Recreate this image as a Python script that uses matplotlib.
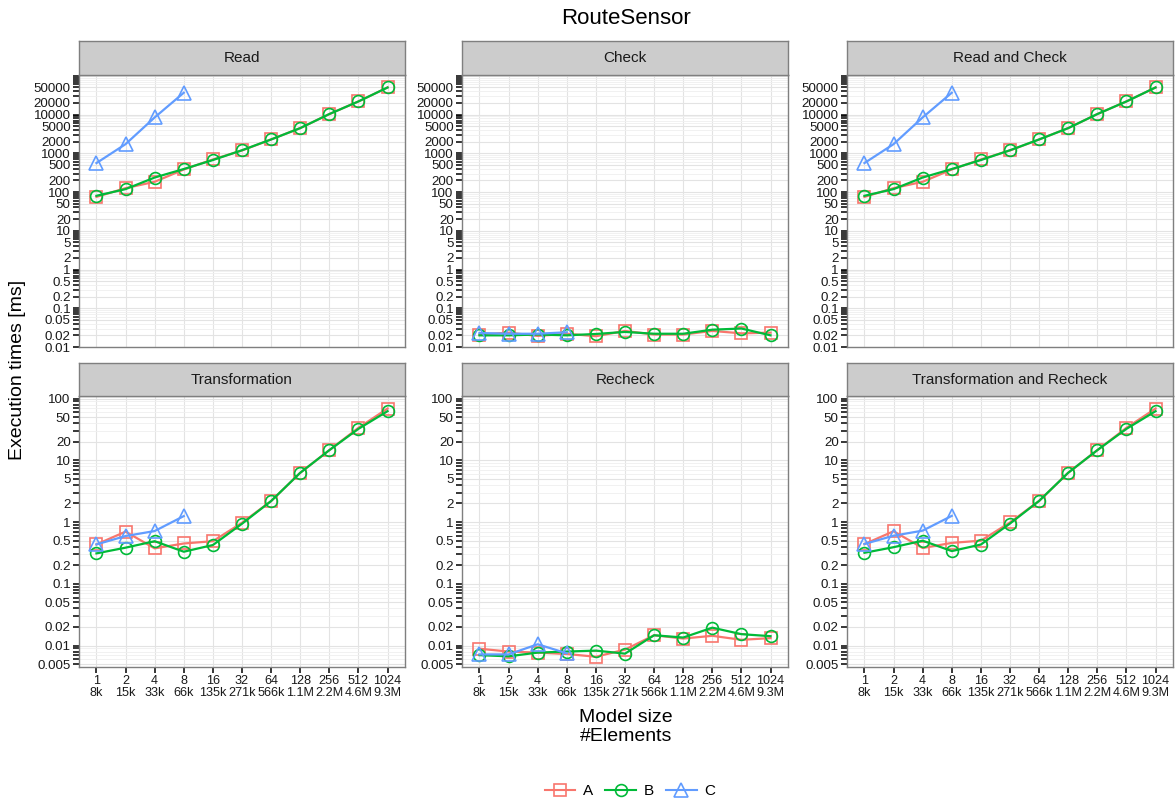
import numpy as np
import matplotlib
matplotlib.use("Agg")
import matplotlib.pyplot as plt
from matplotlib.ticker import FixedLocator, FuncFormatter, NullFormatter
from matplotlib.lines import Line2D

plt.rcParams['font.family'] = ['Liberation Sans', 'DejaVu Sans']

sizes = ["1", "2", "4", "8", "16", "32", "64", "128", "256", "512", "1024"]
elements = ["8k", "15k", "33k", "66k", "135k", "271k", "566k", "1.1M", "2.2M", "4.6M", "9.3M"]

# Read
read_a = [75, 126, 184, 382, 694, 1183, 2277, 4470, 10300, 21800, 50000]
read_b = [80, 119, 237, 393, 670, 1200, 2277, 4470, 10300, 21800, 50000]
read_c = [560, 1725, 8440, 36600]

# Check
check_a = [0.0209, 0.0235, 0.0193, 0.022, 0.019, 0.026, 0.021, 0.021, 0.026, 0.0225, 0.0235]
check_b = [0.020, 0.020, 0.021, 0.020, 0.0217, 0.0245, 0.022, 0.022, 0.028, 0.030, 0.020]
check_c = [0.023, 0.022, 0.022, 0.024]

# Read and Check
readcheck_a = [75, 126, 184, 382, 694, 1183, 2277, 4470, 10300, 21800, 50000]
readcheck_b = [80, 119, 237, 393, 670, 1200, 2277, 4470, 10300, 21800, 50000]
readcheck_c = [560, 1725, 8440, 36600]

# Transformation
trans_a = [0.435, 0.70, 0.375, 0.45, 0.49, 0.975, 2.19, 6.28, 14.6, 33.6, 68.9]
trans_b = [0.311, 0.385, 0.49, 0.331, 0.425, 0.94, 2.19, 6.28, 14.6, 32.3, 62.4]
trans_c = [0.435, 0.594, 0.716, 1.25]

# Recheck
recheck_a = [0.0089, 0.0080, 0.0077, 0.0073, 0.0066, 0.0086, 0.0147, 0.0130, 0.0144, 0.0124, 0.0132]
recheck_b = [0.0070, 0.0067, 0.0077, 0.0080, 0.0083, 0.0074, 0.0147, 0.0135, 0.0195, 0.0153, 0.0142]
recheck_c = [0.0072, 0.0072, 0.0105, 0.0075]

# Transformation and Recheck
transrecheck_a = [0.44, 0.71, 0.38, 0.46, 0.50, 0.985, 2.2, 6.29, 14.6, 33.6, 68.9]
transrecheck_b = [0.318, 0.392, 0.50, 0.339, 0.433, 0.947, 2.2, 6.29, 14.6, 32.3, 62.4]
transrecheck_c = [0.442, 0.601, 0.727, 1.26]

panels = [
    ("Read", read_a, read_b, read_c),
    ("Check", check_a, check_b, check_c),
    ("Read and Check", readcheck_a, readcheck_b, readcheck_c),
    ("Transformation", trans_a, trans_b, trans_c),
    ("Recheck", recheck_a, recheck_b, recheck_c),
    ("Transformation and Recheck", transrecheck_a, transrecheck_b, transrecheck_c),
]

colors = {"A": "#F8766D", "B": "#00BA38", "C": "#619CFF"}
markers = {"A": "s", "B": "o", "C": "^"}
msizes = {"A": 8, "B": 8.5, "C": 10}

top_major = [0.01, 0.02, 0.05, 0.1, 0.2, 0.5, 1, 2, 5, 10, 20, 50, 100, 200, 500,
             1000, 2000, 5000, 10000, 20000, 50000]
bot_major = [0.005, 0.01, 0.02, 0.05, 0.1, 0.2, 0.5, 1, 2, 5, 10, 20, 50, 100]

W, H = 1175, 805
fig = plt.figure(figsize=(W / 100, H / 100), dpi=100)

col_left = [79, 462, 847]
col_w = 326
rows = [(75, 347, 41), (396, 667, 363)]  # plot top, plot bottom, strip top

x = np.arange(len(sizes))

for i, (name, a, b, c) in enumerate(panels):
    r, col = divmod(i, 3)
    top, bottom, strip_top = rows[r]
    left = col_left[col]
    ax = fig.add_axes([left / W, 1 - bottom / H, col_w / W, (bottom - top) / H])
    sax = fig.add_axes([left / W, 1 - top / H, col_w / W, (top - strip_top) / H])
    sax.set_facecolor("#cccccc")
    sax.set_xticks([])
    sax.set_yticks([])
    for s in sax.spines.values():
        s.set_color("#7f7f7f")
        s.set_linewidth(1.0)
    sax.text(0.5, 0.5, name, ha="center", va="center", fontsize=11, color="#1a1a1a",
             transform=sax.transAxes)

    ax.set_yscale("log")
    if r == 0:
        ax.set_ylim(0.01, 1.05e5)
        major = top_major
        lo, hi = -2, 5
    else:
        ax.set_ylim(0.0045, 110)
        major = bot_major
        lo, hi = -3, 2
    minor = [m * 10.0 ** e for e in range(lo, hi + 1) for m in range(1, 10)]
    minor = [v for v in minor if v not in major]
    ax.yaxis.set_major_locator(FixedLocator(major))
    ax.yaxis.set_minor_locator(FixedLocator(minor))
    ax.yaxis.set_major_formatter(FuncFormatter(lambda v, p: "%g" % v))
    ax.yaxis.set_minor_formatter(NullFormatter())

    ax.set_xlim(-0.6, len(sizes) - 0.4)
    ax.set_xticks(x)

    ax.tick_params(axis="both", which="both", direction="out", length=4, width=1.1,
                   color="black", labelsize=9.6, labelcolor="#1a1a1a", pad=2)
    if r == 1:
        ax.set_xticklabels([f"{s}\n{e}" for s, e in zip(sizes, elements)],
                           fontsize=9.1, linespacing=0.95)
    else:
        ax.set_xticklabels([])
        ax.tick_params(axis="x", length=0)

    ax.grid(True, which="major", color="#e3e3e3", linewidth=0.8)
    ax.grid(True, which="minor", axis="y", color="#efefef", linewidth=0.6)
    ax.set_axisbelow(True)
    for s in ax.spines.values():
        s.set_color("#7f7f7f")
        s.set_linewidth(1.0)

    for key, vals in (("A", a), ("B", b), ("C", c)):
        ax.plot(x[:len(vals)], vals, color=colors[key], linewidth=1.6,
                marker=markers[key], markersize=msizes[key], markerfacecolor="none",
                markeredgecolor=colors[key], markeredgewidth=1.2, clip_on=False)

fig.text(0.5 * (79 + 847 + col_w) / W, 1 - 18 / H, "RouteSensor", ha="center", va="center",
         fontsize=16)
fig.text(18 / W, 1 - 370 / H, "Execution times [ms]", rotation=90, ha="center",
         va="center", fontsize=14)
fig.text((79 + 847 + col_w) / 2 / W, 1 - 727 / H, "Model size\n#Elements", ha="center",
         va="center", fontsize=14, linespacing=1.2)

handles = [Line2D([], [], color=colors[k], marker=markers[k], markersize=msizes[k],
                  markerfacecolor="none", linewidth=1.5, markeredgewidth=1.2)
           for k in ("A", "B", "C")]
fig.legend(handles, ["A", "B", "C"], loc="center", ncol=3, frameon=False,
           bbox_to_anchor=(630 / W, 1 - 791 / H), fontsize=11, handlelength=2.0,
           columnspacing=0.8, handletextpad=0.5)

fig.savefig("out.png", dpi=100)
